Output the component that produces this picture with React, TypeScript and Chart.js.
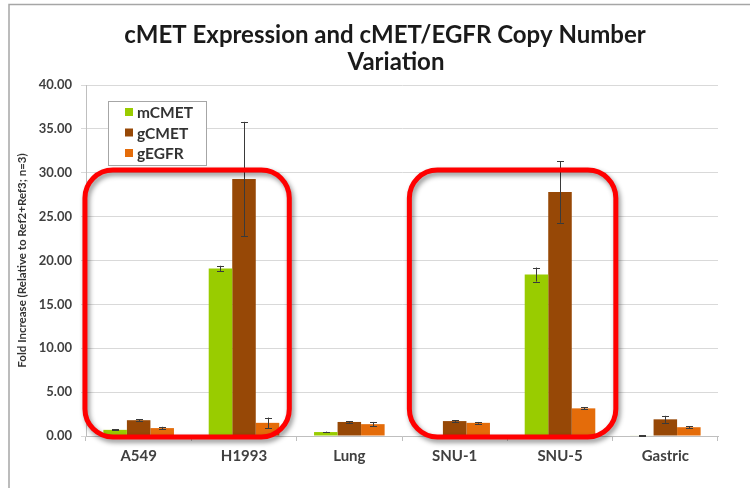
import React, { useEffect, useRef } from "react";
import { Chart, registerables } from "chart.js";

Chart.register(...registerables);

const categories = ["A549", "H1993", "Lung", "SNU-1", "SNU-5", "Gastric"];
const seriesNames = ["mCMET", "gCMET", "gEGFR"];
const mCMET = [0.7, 19.1, 0.45, 0.05, 18.4, 0.05];
const mCMETErr = [0.05, 0.3, 0.05, 0.02, 0.8, 0.02];
const gCMET = [1.8, 29.3, 1.6, 1.7, 27.8, 1.9];
const gCMETErr = [0.1, 6.5, 0.1, 0.1, 3.5, 0.4];
const gEGFR = [0.9, 1.5, 1.35, 1.5, 3.15, 1.0];
const gEGFRErr = [0.15, 0.6, 0.25, 0.1, 0.1, 0.1];
const yMin = 0;
const yMax = 40;
const yStep = 5;

const titleLines = ["cMET Expression and cMET/EGFR Copy Number", "Variation"];
const yTitle = "Fold Increase (Relative to Ref2+Ref3; n=3)";
// highlighted category groups: [firstIndex, lastIndex]
const highlightGroups = [
  [0, 1],
  [3, 4],
];
const highlightTopValue = 30.3;

const seriesColors = ["#99CC00", "#974806", "#E46C0A"];
const FONT = "Lato, 'Open Sans', sans-serif";

const errors = [mCMETErr, gCMETErr, gEGFRErr];
const values = [mCMET, gCMET, gEGFR];

const decorPlugin = {
  id: "decor",
  beforeDraw(chart: any) {
    const ctx = chart.ctx;
    ctx.save();
    ctx.fillStyle = "#ffffff";
    ctx.fillRect(0, 0, chart.width, chart.height);
    // outer frame
    ctx.strokeStyle = "#a6a6a6";
    ctx.lineWidth = 1.5;
    ctx.beginPath();
    ctx.moveTo(9, chart.height);
    ctx.lineTo(9, 4.5);
    ctx.lineTo(chart.width, 4.5);
    ctx.stroke();
    // title
    ctx.fillStyle = "#1a1a1a";
    ctx.font = `bold 24px ${FONT}`;
    ctx.textAlign = "center";
    ctx.textBaseline = "middle";
    ctx.fillText(titleLines[0], 385, 35);
    ctx.fillText(titleLines[1], 396, 62);
    ctx.restore();
  },
  afterDatasetsDraw(chart: any) {
    const ctx = chart.ctx;
    const yS = chart.scales.y;
    const xS = chart.scales.x;
    ctx.save();
    // error bars
    ctx.strokeStyle = "#3a3a3a";
    ctx.lineWidth = 1;
    values.forEach((vals, di) => {
      const meta = chart.getDatasetMeta(di);
      meta.data.forEach((bar: any, j: number) => {
        const v = vals[j];
        const e = errors[di][j];
        const x = Math.round(bar.x) + 0.5;
        const yTop = yS.getPixelForValue(v + e);
        const yBot = yS.getPixelForValue(Math.max(0, v - e));
        ctx.beginPath();
        ctx.moveTo(x, yTop);
        ctx.lineTo(x, yBot);
        ctx.moveTo(x - 3.5, Math.round(yTop) + 0.5);
        ctx.lineTo(x + 3.5, Math.round(yTop) + 0.5);
        ctx.moveTo(x - 3.5, Math.round(yBot) + 0.5);
        ctx.lineTo(x + 3.5, Math.round(yBot) + 0.5);
        ctx.stroke();
      });
    });

    // legend
    const lx = 108, ly = 101, lw = 98, lh = 64;
    ctx.fillStyle = "#ffffff";
    ctx.fillRect(lx, ly, lw, lh);
    ctx.strokeStyle = "#a6a6a6";
    ctx.lineWidth = 1;
    ctx.strokeRect(lx + 0.5, ly + 0.5, lw, lh);
    ctx.font = `bold 15.5px ${FONT}`;
    ctx.textAlign = "left";
    ctx.textBaseline = "middle";
    seriesNames.forEach((name, i) => {
      const cy = ly + 11 + i * 20.5;
      ctx.fillStyle = seriesColors[i];
      ctx.fillRect(lx + 17, cy - 4, 8, 8);
      ctx.fillStyle = "#333333";
      ctx.fillText(name, lx + 29, cy + 1);
    });

    // highlight rounded rectangles
    const cw = xS.getPixelForValue(1) - xS.getPixelForValue(0);
    const offsets = [
      [-0.51, 0.43],
      [-0.43, 0.53],
    ];
    ctx.strokeStyle = "#ff0000";
    ctx.lineWidth = 5;
    ctx.shadowColor = "rgba(0,0,0,0.45)";
    ctx.shadowBlur = 5;
    ctx.shadowOffsetX = 2;
    ctx.shadowOffsetY = 3;
    highlightGroups.forEach((g, k) => {
      const left = xS.getPixelForValue(g[0]) + offsets[k][0] * cw;
      const right = xS.getPixelForValue(g[1]) + offsets[k][1] * cw;
      const top = yS.getPixelForValue(highlightTopValue);
      const bottom = yS.getPixelForValue(0) + 1;
      const r = 28;
      ctx.beginPath();
      ctx.moveTo(left + r, top);
      ctx.lineTo(right - r, top);
      ctx.arcTo(right, top, right, top + r, r);
      ctx.lineTo(right, bottom - r);
      ctx.arcTo(right, bottom, right - r, bottom, r);
      ctx.lineTo(left + r, bottom);
      ctx.arcTo(left, bottom, left, bottom - r, r);
      ctx.lineTo(left, top + r);
      ctx.arcTo(left, top, left + r, top, r);
      ctx.closePath();
      ctx.stroke();
    });
    ctx.restore();
  },
};

export default function App() {
  const ref = useRef<HTMLCanvasElement>(null);
  useEffect(() => {
    if (!ref.current) return;
    const chart = new Chart(ref.current, {
      type: "bar",
      data: {
        labels: categories,
        datasets: values.map((vals, i) => ({
          label: seriesNames[i],
          data: vals,
          backgroundColor: seriesColors[i],
          borderWidth: 0,
          categoryPercentage: 0.67,
          barPercentage: 1.0,
        })),
      },
      options: {
        responsive: false,
        animation: false,
        layout: { padding: { top: 85, right: 32, bottom: 0, left: 0 } },
        plugins: {
          legend: { display: false },
          tooltip: { enabled: false },
          title: { display: false },
        },
        scales: {
          x: {
            afterFit: (s: any) => {
              s.height = 52;
            },
            grid: {
              offset: true,
              drawOnChartArea: false,
              drawTicks: true,
              tickLength: 5,
              color: "#bfbfbf",
            },
            border: { color: "#bfbfbf" },
            ticks: {
              padding: 6,
              color: "#404040",
              font: { family: FONT, size: 15, weight: "bold" },
            },
          },
          y: {
            min: yMin,
            max: yMax,
            afterFit: (s: any) => {
              s.width = 86;
            },
            grid: {
              color: "#d9d9d9",
              tickLength: 5,
              drawTicks: true,
            },
            border: { color: "#bfbfbf" },
            ticks: {
              stepSize: yStep,
              padding: 9,
              color: "#404040",
              font: { family: FONT, size: 13, weight: "bold" },
              callback: (v: any) => Number(v).toFixed(2),
            },
            title: {
              display: true,
              text: yTitle,
              color: "#333333",
              font: { family: FONT, size: 11.5, weight: "bold" },
              padding: { top: 15, bottom: 0 },
            },
          },
        },
      },
      plugins: [decorPlugin],
    });
    return () => chart.destroy();
  }, []);
  return (
    <div style={{ position: "absolute", left: 0, top: 0, width: 750, height: 488, background: "#fff" }}>
      <canvas ref={ref} width={750} height={488} />
    </div>
  );
}
